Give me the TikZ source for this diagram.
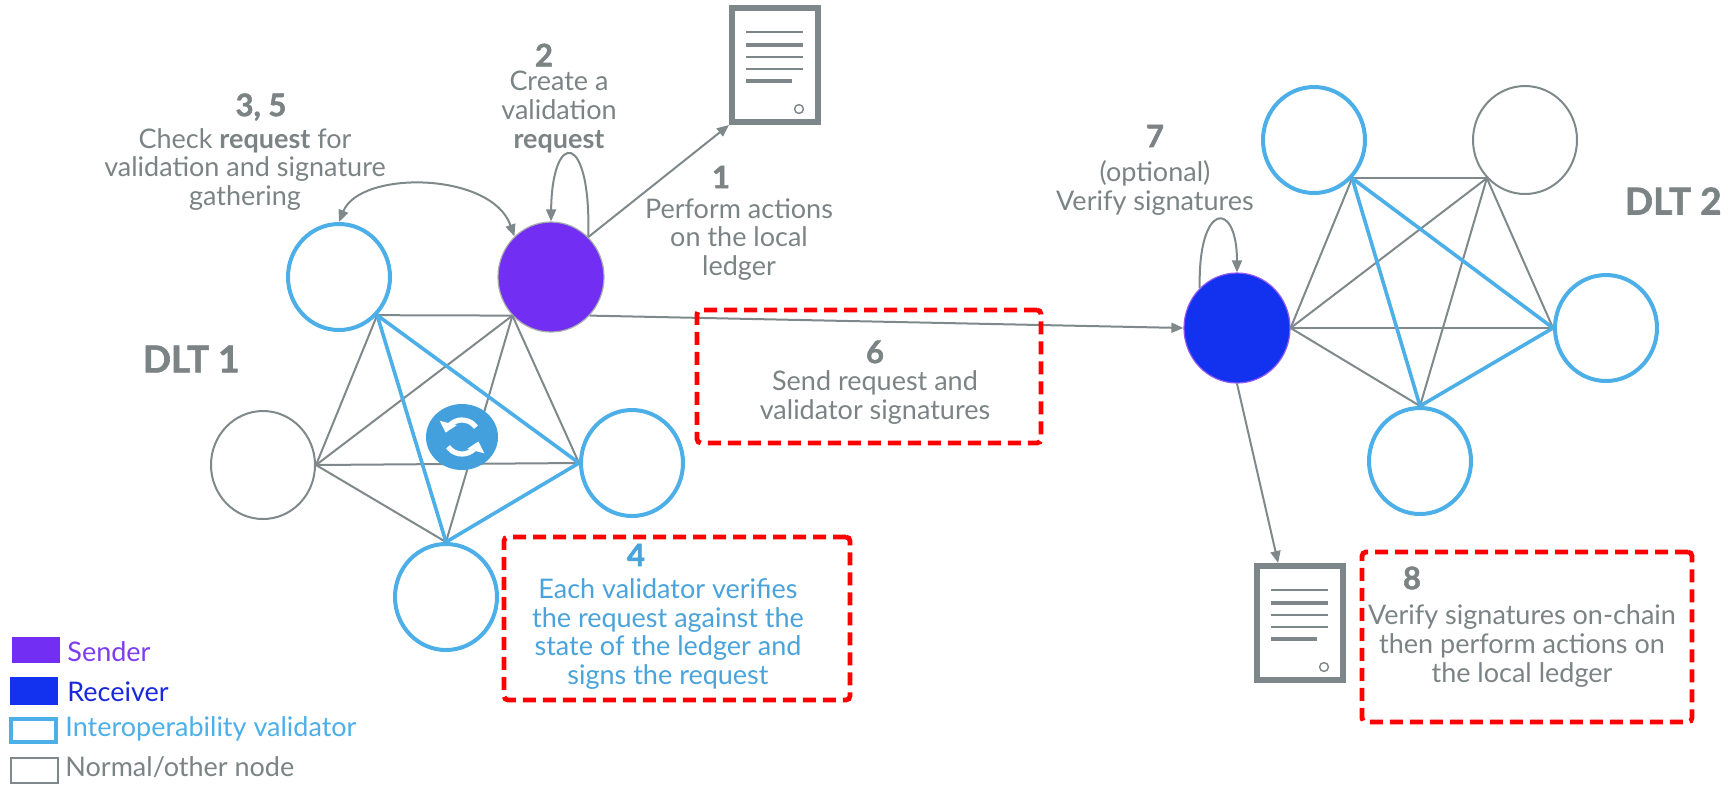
\documentclass[tikz,border=0pt]{standalone}
\usepackage{fontspec}
\setmainfont{Lato}
\newfontfamily\heavyfont{Lato}[BoldFeatures={FakeBold=1.6}]
\usetikzlibrary{shapes.geometric,arrows.meta}
\definecolor{txtgray}{RGB}{123,131,133}
\definecolor{edgegray}{RGB}{127,137,139}
\definecolor{valblue}{RGB}{77,175,232}
\definecolor{txtblue}{RGB}{74,163,218}
\definecolor{sndpurple}{RGB}{114,46,242}
\definecolor{rcvblue}{RGB}{18,50,240}
\definecolor{syncblue}{RGB}{67,160,220}
\definecolor{lgpurple}{RGB}{125,60,240}
\definecolor{lgblue}{RGB}{25,40,220}
\definecolor{docgray}{RGB}{125,134,136}
\begin{document}
\begin{tikzpicture}[x=0.5pt,y=-0.5pt,
  val/.style={ellipse, draw=valblue, line width=2pt, fill=white, minimum width=51pt, minimum height=53pt, inner sep=0pt},
  norm/.style={ellipse, draw=edgegray, line width=1pt, fill=white, minimum width=52pt, minimum height=54pt, inner sep=0pt},
  sndnode/.style={ellipse, fill=sndpurple, draw=edgegray!70, line width=0.6pt, minimum width=53pt, minimum height=55pt, inner sep=0pt},
  rcvnode/.style={ellipse, fill=rcvblue, draw=sndpurple!80, line width=0.6pt, minimum width=53pt, minimum height=55pt, inner sep=0pt},
  gedge/.style={draw=edgegray, line width=1pt},
  bedge/.style={draw=valblue, line width=1.8pt},
  arr/.style={draw=edgegray, line width=1pt, -{Triangle[length=6pt,width=5pt]}},
  darr/.style={draw=edgegray, line width=1pt, {Triangle[length=6pt,width=5pt]}-{Triangle[length=6pt,width=5pt]}},
  redbox/.style={draw=red, line width=2.4pt, dash pattern=on 6.5pt off 3.5pt, rounded corners=2pt, inner sep=0pt},
  lbl/.style={text=txtgray, align=center, inner sep=0pt, font=\fontsize{13.5}{14.3}\selectfont},
  num/.style={text=txtgray, inner sep=0pt, font=\heavyfont\bfseries\fontsize{15.5}{17}\selectfont},
  dlt/.style={text=txtgray, inner sep=0pt, font=\heavyfont\bfseries\fontsize{18.5}{20}\selectfont},
  lgtxt/.style={anchor=west, inner sep=0pt, font=\fontsize{13.5}{14.3}\selectfont},
  docbox/.style={draw=docgray, line width=3pt, fill=white, minimum width=43pt, minimum height=57pt, inner sep=0pt,
    path picture={
      \foreach \yy/\ww/\lw in {16.5/28.5/1.2, 10/28.5/2, 4/28.5/1.2, -2/28.5/1.2, -8/23/2}
        \draw[docgray, line width=\lw pt] ([xshift=-14.5pt, yshift=\yy pt]path picture bounding box.center) -- ++(\ww pt,0pt);
      \draw[docgray, line width=0.7pt] ([xshift=12pt, yshift=-22pt]path picture bounding box.center) circle[radius=2.2pt];
    }},
]
\useasboundingbox (0,0) rectangle (1730,784);

% DLT 1 nodes
\node[val] (tl1) at (339,277) {};
\node[sndnode] (snd) at (551,277) {};
\node[norm] (lft) at (263,465) {};
\node[val] (rgt) at (632,463) {};
\node[val] (bot) at (446,597) {};

% DLT 2 nodes
\node[rcvnode] (rcv) at (1237,328) {};
\node[val] (tl2) at (1314,140) {};
\node[norm] (tr2) at (1525,140) {};
\node[val] (rt2) at (1606,328) {};
\node[val] (bt2) at (1420,461) {};

% documents
\node[docbox] (doc1) at (775,65) {};
\node[docbox] (doc2) at (1300,623) {};

% DLT 1 edges
\draw[gedge] (tl1.-45) -- (snd.-135);
\draw[gedge] (tl1.-45) -- (lft.0);
\draw[gedge] (snd.-135) -- (lft.0);
\draw[gedge] (snd.-135) -- (rgt.180);
\draw[gedge] (snd.-135) -- (bot.90);
\draw[gedge] (lft.0) -- (rgt.180);
\draw[gedge] (lft.0) -- (bot.90);
\draw[bedge] (tl1.-45) -- (rgt.180);
\draw[bedge] (tl1.-45) -- (bot.90);
\draw[bedge] (bot.90) -- (rgt.180);

% DLT 2 edges
\draw[gedge] (tl2.-45) -- (tr2.-135);
\draw[gedge] (tl2.-45) -- (rcv.0);
\draw[gedge] (tr2.-135) -- (rcv.0);
\draw[gedge] (tr2.-135) -- (bt2.90);
\draw[gedge] (tr2.-135) -- (rt2.180);
\draw[gedge] (rcv.0) -- (rt2.180);
\draw[gedge] (rcv.0) -- (bt2.90);
\draw[bedge] (tl2.-45) -- (bt2.90);
\draw[bedge] (tl2.-45) -- (rt2.180);
\draw[bedge] (bt2.90) -- (rt2.180);

% sync icon
\node[ellipse, fill=syncblue, minimum width=36pt, minimum height=33pt, inner sep=0pt] (sync) at (462,437) {};
\draw[white, line width=2.6pt, -{Triangle[length=5pt,width=8.5pt]}] ([shift={(35:8.5pt)}]sync.center) arc[start angle=35, end angle=165, radius=8.5pt];
\draw[white, line width=2.6pt, -{Triangle[length=5pt,width=8.5pt]}] ([shift={(215:8.5pt)}]sync.center) arc[start angle=215, end angle=345, radius=8.5pt];

% arrows
\draw[darr] (tl1.north) .. controls +(21,-52) and +(-23,-65) .. (snd.132);
\draw[arr] (snd.47) .. controls +(3,-107) and +(1,-92) .. (snd.north);
\draw[arr] (snd.47) -- (doc1.south west);
\draw[arr] (snd.-45) -- (rcv.west);
\draw[arr] (rcv.133) .. controls +(-2,-87) and +(0,-73) .. (rcv.north);
\draw[arr] (rcv.south) -- (doc2.110);

% red boxes
\node[redbox, minimum width=172pt, minimum height=66.5pt] (box6) at (869,376.5) {};
\node[redbox, minimum width=173pt, minimum height=81.5pt] (box4) at (677,618.5) {};
\node[redbox, minimum width=165pt, minimum height=85pt] (box8) at (1527,637) {};

% labels
\node[num] (n35) at (261,107) {3, 5};
\node[lbl] (t35) at (245,169.5) {Check \textbf{request} for\\validation and signature\\gathering};
\node[num] (n2) at (544,55) {2};
\node[lbl] (t2) at (559,112) {Create a\\validation\\\textbf{request}};
\node[num] (n1) at (721,177) {1};
\node[lbl] (t1) at (739,239.5) {Perform actions\\on the local\\ledger};
\node[num] (n7) at (1155,136) {7};
\node[lbl] (t7) at (1155,188) {(optional)\\Verify signatures};
\node[num] (n6) at (875,352) {6};
\node[lbl] (t6) at (875,397.5) {Send request and\\validator signatures};
\node[num, text=txtblue] (n4) at (636,555) {4};
\node[lbl, text=txtblue] (t4) at (668,634) {Each validator verifies\\the request against the\\state of the ledger and\\signs the request};
\node[num] (n8) at (1412,578) {8};
\node[lbl] (t8) at (1522,646) {Verify signatures on-chain\\then perform actions on\\the local ledger};
\node[dlt, anchor=east] (d1) at (240,359) {DLT 1};
\node[dlt, anchor=east] (d2) at (1722,201) {DLT 2};

% legend
\node[fill=sndpurple, minimum width=24pt, minimum height=13pt, inner sep=0pt] (lg1) at (36,650) {};
\node[fill=rcvblue, minimum width=24pt, minimum height=14pt, inner sep=0pt] (lg2) at (34,691) {};
\node[draw=valblue, line width=2pt, minimum width=22.5pt, minimum height=11.5pt, inner sep=0pt] (lg3) at (33.5,730.5) {};
\node[draw=edgegray, line width=1pt, minimum width=23.5pt, minimum height=12.5pt, inner sep=0pt] (lg4) at (34,770) {};
\node[lgtxt, text=lgpurple] (lt1) at (67,652) {Sender};
\node[lgtxt, text=lgblue] (lt2) at (67,692) {Receiver};
\node[lgtxt, text=valblue] (lt3) at (65,729) {Interoperability validator};
\node[lgtxt, text=txtgray] (lt4) at (65,767) {Normal/other node};
\end{tikzpicture}
\end{document}
